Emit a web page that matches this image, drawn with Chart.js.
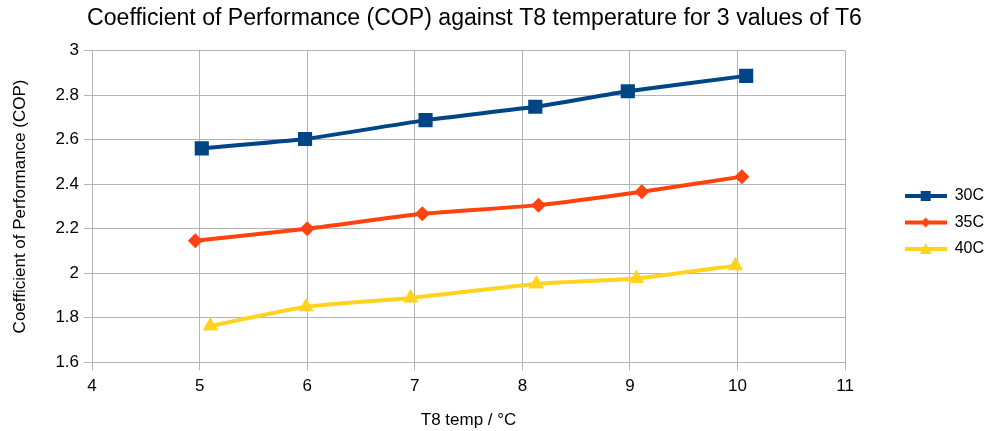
<!DOCTYPE html>
<html>
<head>
<meta charset="utf-8">
<script src="https://cdn.jsdelivr.net/npm/chart.js@4.4.1/dist/chart.umd.min.js"></script>
<style>
html, body { margin: 0; padding: 0; background: #fff; }
#wrap { width: 987px; height: 431px; }
</style>
</head>
<body>
<div id="wrap"><canvas id="copChart"></canvas></div>
<script>
const seriesNames = ['30C', '35C', '40C']
const t8_30 = [5.02, 5.98, 7.10, 8.12, 8.98, 10.08]
const cop_30 = [2.561, 2.603, 2.688, 2.748, 2.818, 2.887]
const t8_35 = [4.96, 6.00, 7.07, 8.15, 9.11, 10.04]
const cop_35 = [2.146, 2.200, 2.267, 2.306, 2.366, 2.434]
const t8_40 = [5.10, 5.99, 6.96, 8.13, 9.06, 9.98]
const cop_40 = [1.763, 1.849, 1.889, 1.952, 1.976, 2.034]

const colors = ['#004586', '#ff420e', '#ffd320']
const markers = ['rect', 'rectRot', 'triangle']
const markerSizes = [10, 7.5, 9]
const fontFam = "'Liberation Sans', Arial, sans-serif"

function toPoints(xs, ys) {
    return xs.map((x, i) => ({ x: x, y: ys[i] }))
}

// small line + marker picture for the legend
function legendIcon(color, marker) {
    const c = document.createElement('canvas')
    c.width = 42
    c.height = 16
    const ctx = c.getContext('2d')
    ctx.strokeStyle = color
    ctx.fillStyle = color
    ctx.lineWidth = 4
    ctx.beginPath()
    ctx.moveTo(0, 8)
    ctx.lineTo(42, 8)
    ctx.stroke()
    ctx.beginPath()
    if (marker === 'rect') {
        ctx.rect(16, 3, 10, 10)
    } else if (marker === 'rectRot') {
        ctx.moveTo(21, 3); ctx.lineTo(26, 8); ctx.lineTo(21, 13); ctx.lineTo(16, 8)
    } else {
        ctx.moveTo(21, 2); ctx.lineTo(27, 13); ctx.lineTo(15, 13)
    }
    ctx.closePath()
    ctx.fill()
    return c
}

// push the legend away from the plot, as in the original
const legendShift = {
    id: 'legendShift',
    afterLayout(chart) {
        const lg = chart.legend
        lg.left += 49
        lg.right += 49
        lg.top += 6
        lg.bottom += 6
    }
}

const allX = [t8_30, t8_35, t8_40]
const allY = [cop_30, cop_35, cop_40]

const cfg = {
    type: 'scatter',
    data: {
        datasets: seriesNames.map((name, i) => ({
            label: name,
            data: toPoints(allX[i], allY[i]),
            showLine: true,
            borderColor: colors[i],
            backgroundColor: colors[i],
            borderWidth: 4,
            tension: 0.15,
            pointStyle: markers[i],
            pointRadius: markerSizes[i],
            pointHoverRadius: markerSizes[i],
            pointBorderWidth: 0
        }))
    },
    options: {
        responsive: true,
        maintainAspectRatio: false,
        animation: false,
        layout: {
            padding: { left: 4, right: 42, top: 2, bottom: 0 }
        },
        plugins: {
            title: {
                display: true,
                text: 'Coefficient of Performance (COP) against T8 temperature for 3 values of T6',
                color: '#000',
                font: { family: fontFam, size: 23.1, weight: 'normal' },
                padding: { top: 3, bottom: 18 }
            },
            legend: {
                position: 'right',
                labels: {
                    usePointStyle: true,
                    pointStyleWidth: 42,
                    color: '#000',
                    font: { family: fontFam, size: 16 },
                    padding: 10.5,
                    generateLabels: (chart) => chart.data.datasets.map((ds, i) => ({
                        text: ds.label,
                        pointStyle: legendIcon(colors[i], markers[i]),
                        fillStyle: colors[i],
                        strokeStyle: colors[i],
                        lineWidth: 0,
                        datasetIndex: i
                    }))
                }
            },
            tooltip: { enabled: false }
        },
        scales: {
            x: {
                type: 'linear',
                min: 4,
                max: 11,
                ticks: { stepSize: 1, color: '#000', padding: 6, font: { family: fontFam, size: 17 } },
                grid: { color: '#b3b3b3', tickLength: 8 },
                border: { color: '#b3b3b3' },
                title: {
                    display: true,
                    text: 'T8 temp / °C',
                    color: '#000',
                    font: { family: fontFam, size: 17 },
                    padding: { top: 8, bottom: 0 }
                }
            },
            y: {
                min: 1.6,
                max: 3,
                ticks: {
                    stepSize: 0.2,
                    color: '#000',
                    padding: 5,
                    font: { family: fontFam, size: 17 },
                    callback: (v) => String(+v.toFixed(1))
                },
                grid: { color: '#b3b3b3', tickLength: 8 },
                border: { color: '#b3b3b3' },
                title: {
                    display: true,
                    text: 'Coefficient of Performance (COP)',
                    color: '#000',
                    font: { family: fontFam, size: 17 },
                    padding: { top: 6, bottom: 20 }
                }
            }
        }
    },
    plugins: [legendShift]
}

const ctx = document.getElementById('copChart').getContext('2d')
const copChart = new Chart(ctx, cfg)
</script>
</body>
</html>
